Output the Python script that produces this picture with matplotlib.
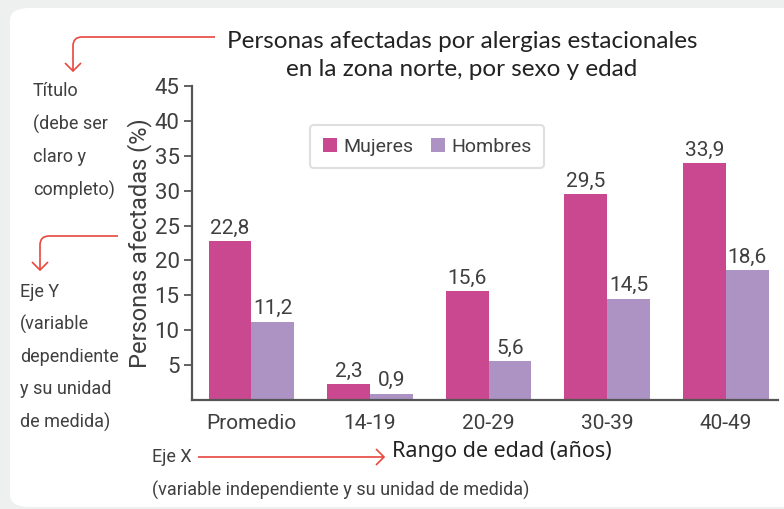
import matplotlib
matplotlib.use("Agg")
import matplotlib.pyplot as plt
import numpy as np
from matplotlib.patches import FancyBboxPatch, PathPatch
from matplotlib.path import Path

# data
grupos = ["Promedio", "14-19", "20-29", "30-39", "40-49"]
mujeres = [22.8, 2.3, 15.6, 29.5, 33.9]
hombres = [11.2, 0.9, 5.6, 14.5, 18.6]
yticks = [5, 10, 15, 20, 25, 30, 35, 40, 45]

W, H = 784, 509
C_MUJ = "#c9488f"
C_HOM = "#ad92c4"
C_TXT = "#3f3f3f"
C_RED = "#e8473f"
NARROW = ["Roboto", "DejaVu Sans"]
ROUND = ["Lato", "DejaVu Sans"]

fig = plt.figure(figsize=(W / 100, H / 100), dpi=100, facecolor="#eef0ef")


def px(x, y):
    return (x / W, 1 - y / H)


# white card
card = FancyBboxPatch(px(10, 507), (W + 20 - 10) / W, (507 - 8) / H,
                      boxstyle="round,pad=0,rounding_size=0.025",
                      transform=fig.transFigure, facecolor="white",
                      edgecolor="none", zorder=-5)
fig.patches.append(card)

ax = fig.add_axes([192 / W, (H - 400) / H, 586 / W, 314 / H])
ax.set_facecolor("none")
ax.set_zorder(2)
x = np.arange(len(grupos))
bw = 0.36
b1 = ax.bar(x - bw / 2, mujeres, bw, color=C_MUJ, label="Mujeres")
b2 = ax.bar(x + bw / 2, hombres, bw, color=C_HOM, label="Hombres")
for bars, vals in ((b1, mujeres), (b2, hombres)):
    for b, v in zip(bars, vals):
        ax.text(b.get_x() + b.get_width() / 2, v + 0.5,
                f"{v:.1f}".replace(".", ","), ha="center", va="bottom",
                fontsize=15, color=C_TXT, family=NARROW)

ax.set_xlim(-0.5, 4.44)
ax.set_ylim(0, 45)
ax.set_yticks(yticks)
ax.set_xticks(x)
ax.set_xticklabels(grupos, family=NARROW, fontsize=15, color=C_TXT)
ax.tick_params(axis="x", length=0, pad=10)
ax.tick_params(axis="y", direction="out", length=6, width=1.3, color="#555555",
               labelsize=16, labelcolor=C_TXT, pad=3)
for lab in ax.get_yticklabels():
    lab.set_family(NARROW)
for s in ["top", "right"]:
    ax.spines[s].set_visible(False)
for s in ["left", "bottom"]:
    ax.spines[s].set_linewidth(1.6)
    ax.spines[s].set_color("#555555")

ax.set_ylabel("Personas afectadas (%)", fontsize=17, color=C_TXT,
              family=NARROW, labelpad=2)
ax.set_xlabel("Rango de edad (años)", fontsize=15.5, color="#222222",
              family=["Noto Sans", "DejaVu Sans"], fontweight="medium")
ax.xaxis.label.set_va("center")
ax.xaxis.set_label_coords((502 - 192) / 586, (400 - 452) / 314)

leg = ax.legend(loc="upper left", bbox_to_anchor=((310 - 192) / 586, (400 - 125) / 314),
                ncol=2, frameon=True, fancybox=True, borderaxespad=0,
                prop={"family": NARROW, "size": 14},
                handlelength=0.75, handleheight=0.75, handletextpad=0.3,
                columnspacing=0.9, borderpad=0.65)
leg.get_frame().set_edgecolor("#d8d8d8")
leg.get_frame().set_linewidth(1.5)
for t in leg.get_texts():
    t.set_color(C_TXT)

# title
fig.text(*px(462, 42), "Personas afectadas por alergias estacionales",
         ha="center", va="center", fontsize=17.5, color="#222222", family=ROUND)
fig.text(*px(462, 70), "en la zona norte, por sexo y edad",
         ha="center", va="center", fontsize=17.5, color="#222222", family=ROUND)

# side notes
for i, line in enumerate(["Título", "(debe ser", "claro y", "completo)"]):
    fig.text(*px(33, 91 + i * 33), line, ha="left", va="center",
             fontsize=13, color=C_TXT, family=NARROW)
for i, line in enumerate(["Eje Y", "(variable", "dependiente", "y su unidad", "de medida)"]):
    fig.text(*px(20, 292 + i * 32.5), line, ha="left", va="center",
             fontsize=13, color=C_TXT, family=NARROW)
fig.text(*px(152, 457), "Eje X", ha="left", va="center",
         fontsize=13, color=C_TXT, family=NARROW)
fig.text(*px(152, 490), "(variable independiente y su unidad de medida)",
         ha="left", va="center", fontsize=13, color=C_TXT, family=NARROW)


def red_path(pts, codes):
    verts = [px(a, b) for a, b in pts]
    fig.patches.append(PathPatch(Path(verts, codes), transform=fig.transFigure,
                                 facecolor="none", edgecolor=C_RED, lw=1.2))


M, L, Q = Path.MOVETO, Path.LINETO, Path.CURVE3
# title arrow
red_path([(215, 37), (82, 37), (73, 37), (73, 46), (73, 71)], [M, L, Q, Q, L])
red_path([(65, 63), (73, 71), (81, 63)], [M, L, L])
# eje y arrow
red_path([(118, 236), (49, 236), (40, 236), (40, 245), (40, 270)], [M, L, Q, Q, L])
red_path([(32, 262), (40, 270), (48, 262)], [M, L, L])
# eje x arrow
red_path([(198, 457), (384, 457)], [M, L])
red_path([(376, 449), (384, 457), (376, 465)], [M, L, L])

fig.savefig("out.png", dpi=100, facecolor=fig.get_facecolor())
